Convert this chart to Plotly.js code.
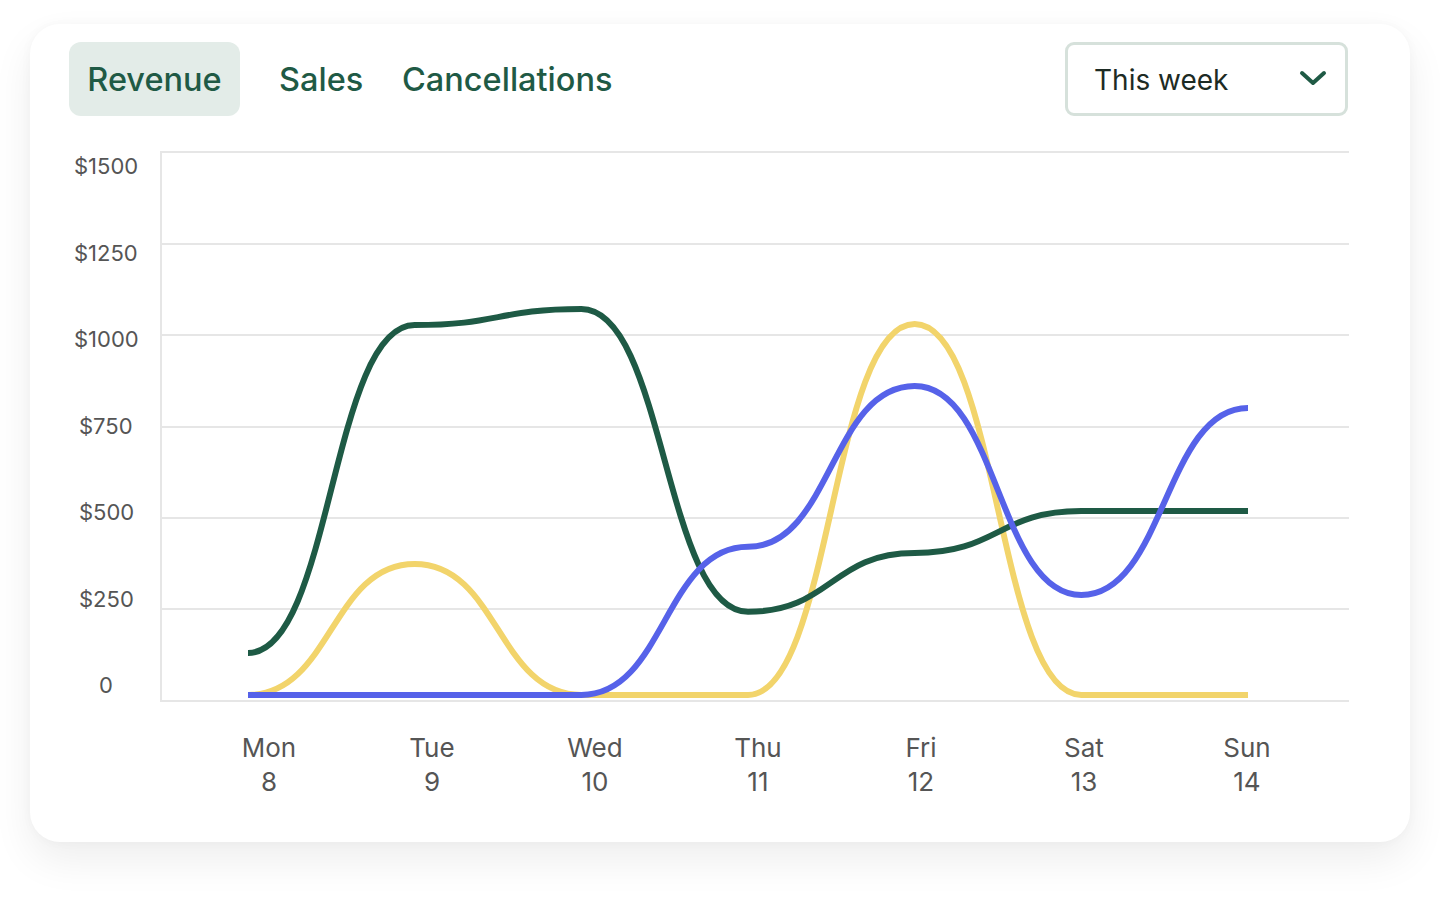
<!DOCTYPE html>
<html>
<head>
<meta charset="utf-8">
<script src="https://cdn.plot.ly/plotly-3.0.1.min.js"></script>
<style>
  html, body { margin:0; padding:0; background:#ffffff; width:1440px; height:899px; overflow:hidden; font-family: Inter, "Open Sans", sans-serif; }
  #card { position:absolute; left:30px; top:24px; width:1380px; height:818px; background:#fff; border-radius:30px;
          box-shadow: 0 18px 40px rgba(0,0,0,0.07), 0 0 12px rgba(0,0,0,0.03); }
  .tab { position:absolute; top:42px; height:74px; line-height:76px; font-size:32.5px; font-weight:500; color:#1f5a45; }
  #rev { left:69px; width:171px; text-align:center; background:#e3ece8; border-radius:12px; }
  #sales { left:279px; }
  #canc { left:402px; }
  #dd { position:absolute; left:1065px; top:42px; width:277px; height:68px; border:3px solid #d6e1db; border-radius:9px; background:#fff; }
  #ddt { position:absolute; left:26px; top:0; line-height:70px; font-size:28px; color:#1d2b24; }
  #ddc { position:absolute; left:231px; top:25px; }
  #chart { position:absolute; left:0; top:0; width:1440px; height:899px; }
</style>
</head>
<body>
<div id="card"></div>
<div class="tab" id="rev">Revenue</div>
<div class="tab" id="sales">Sales</div>
<div class="tab" id="canc">Cancellations</div>
<div id="dd"><span id="ddt">This week</span>
  <svg id="ddc" width="28" height="18" viewBox="0 0 28 18"><polyline points="3,3 14,13 25,3" fill="none" stroke="#1f5a45" stroke-width="4" stroke-linecap="round" stroke-linejoin="round"/></svg>
</div>
<div id="chart"></div>
<script>
const dayNames = ["Mon","Tue","Wed","Thu","Fri","Sat","Sun"];
const dayNums = ["8","9","10","11","12","13","14"];
const dayIndex = [0,1,2,3,4,5,6];
const revenue = [115, 1014, 1058, 228, 389, 504, 504];
const sales = [0, 359, 0, 0, 1017, 0, 0];
const cancellations = [0, 0, 0, 406, 847, 274, 787];
const yTickValues = [0, 250, 500, 750, 1000, 1250, 1500];
const yTickLabels = ["0", "$250", "$500", "$750", "$1000", "$1250", "$1500"];

const seriesNames = ["Sales", "Revenue", "Cancellations"];
const seriesValues = [sales, revenue, cancellations];
const seriesColors = ["#f2d46b", "#1e5a45", "#5662e9"];

const dayLabels = dayNames.map((d,i) => d + "<br>" + dayNums[i]);

// smooth "bump" curve (horizontal tangent at each point), in data coordinates
function bumpPath(xs, ys) {
  let p = "M" + xs[0] + "," + ys[0];
  for (let i = 1; i < xs.length; i++) {
    const xm = (xs[i-1] + xs[i]) / 2;
    p += " C" + xm + "," + ys[i-1] + " " + xm + "," + ys[i] + " " + xs[i] + "," + ys[i];
  }
  return p;
}

const traces = seriesValues.map((vals, k) => ({
  x: dayIndex, y: vals, name: seriesNames[k], type: "scatter", mode: "lines",
  line: { color: seriesColors[k], width: 6 }, opacity: 0, hoverinfo: "skip", showlegend: false
}));

const shapes = seriesValues.map((vals, k) => ({
  type: "path", xref: "x", yref: "y", layer: "above",
  path: bumpPath(dayIndex, vals),
  line: { color: seriesColors[k], width: 6 }
}));

const annotations = yTickValues.map((v,i) => ({
  xref: "paper", yref: "y2", x: -0.047, y: v, text: yTickLabels[i],
  showarrow: false, xanchor: "center", yanchor: "middle",
  font: { family: "Inter, sans-serif", size: 22, color: "#555555" }
}));

const layout = {
  width: 1440, height: 899,
  margin: { l: 162, r: 91, t: 153, b: 199, pad: 0 },
  paper_bgcolor: "rgba(0,0,0,0)", plot_bgcolor: "rgba(0,0,0,0)",
  showlegend: false,
  font: { family: "Inter, sans-serif" },
  xaxis: { range: [-0.516, 6.606], side: "top", showgrid: false, zeroline: false, showticklabels: false,
           showline: true, linecolor: "#e6e6e6", linewidth: 2, fixedrange: true },
  xaxis2: { overlaying: "x", side: "bottom", range: [-0.656, 6.626], tickmode: "array", tickvals: dayIndex, ticktext: dayLabels,
            showgrid: false, zeroline: false, showline: true, linecolor: "#e6e6e6", linewidth: 2,
            ticks: "outside", ticklen: 24, tickcolor: "rgba(0,0,0,0)",
            tickfont: { family: "Inter, sans-serif", size: 26, color: "#555555" }, fixedrange: true },
  yaxis: { range: [-14, 1486], showgrid: false, zeroline: false, showticklabels: false, showline: false, fixedrange: true },
  yaxis2: { overlaying: "y", range: [-43, 1538], showgrid: false, zeroline: false, showticklabels: false, showline: false, fixedrange: true },
  yaxis3: { overlaying: "y", range: [0, 1500], tickmode: "array", tickvals: yTickValues, showticklabels: false,
            showgrid: true, gridcolor: "#e6e6e6", gridwidth: 2, zeroline: false,
            showline: true, linecolor: "#e6e6e6", linewidth: 2, ticks: "", fixedrange: true },
  shapes: shapes,
  annotations: annotations
};

// empty trace so the day-label axis is rendered
traces.unshift({ x: dayIndex, y: dayIndex.map(() => null), xaxis: "x2", yaxis: "y3", type: "scatter", mode: "lines", hoverinfo: "skip", showlegend: false });

Plotly.newPlot("chart", traces, layout, { displayModeBar: false, staticPlot: true });
</script>
</body>
</html>
